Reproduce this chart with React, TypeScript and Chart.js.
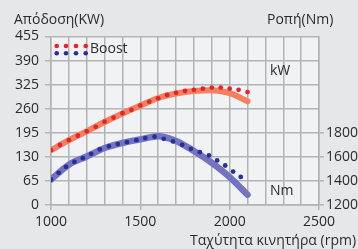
import React, { useEffect, useRef } from "react";
import { Chart, registerables } from "chart.js";
Chart.register(...registerables);

// Power (kW) – standard curve (solid)
const powerLineRpm = [1000, 1100, 1200, 1300, 1400, 1500, 1600, 1700, 1800, 1900, 2000, 2100];
const powerLineKw = [148, 175, 199, 224, 247, 268, 289, 301, 308, 310, 302, 280];
// Power (kW) – Boost (dotted)
const powerBoostRpm = [1000, 1050, 1100, 1150, 1200, 1250, 1300, 1350, 1400, 1450, 1500, 1550, 1600, 1650, 1700, 1750, 1800, 1850, 1900, 1950, 2000, 2050, 2100];
const powerBoostKw = [148, 162, 175, 187, 199, 211, 225, 236, 248, 257, 269, 279, 288, 297, 303, 308, 311, 314, 317, 317, 314, 311, 305];
// Torque (Nm) – standard curve (solid)
const torqueLineRpm = [1000, 1100, 1200, 1300, 1400, 1500, 1600, 1700, 1800, 1900, 2000, 2100];
const torqueLineNm = [1412, 1535, 1603, 1673, 1715, 1745, 1772, 1732, 1648, 1550, 1432, 1285];
// Torque (Nm) – Boost (dotted)
const torqueBoostRpm = [1000, 1043, 1084, 1131, 1178, 1225, 1273, 1324, 1374, 1425, 1478, 1528, 1580, 1631, 1683, 1734, 1783, 1833, 1884, 1930, 1975, 2019, 2062];
const torqueBoostNm = [1412, 1467, 1517, 1558, 1589, 1625, 1662, 1689, 1706, 1722, 1739, 1756, 1767, 1750, 1728, 1700, 1667, 1639, 1612, 1570, 1528, 1478, 1433];

const leftTitle = "Απόδοση(KW)";
const rightTitle = "Ροπή(Nm)";
const xTitle = "Ταχύτητα κινητήρα (rpm)";
const legendLabel = "Boost";
const kwLabel = "kW";
const nmLabel = "Nm";

const FONT = "'Open Sans', sans-serif";
const TEXT = "#2b2b2b";
const GRID = "#b3b3b3";

const zip = (xs: number[], ys: number[]) => xs.map((x, i) => ({ x, y: ys[i] }));

export default function App() {
  const ref = useRef<HTMLCanvasElement | null>(null);
  useEffect(() => {
    document.body.style.margin = "0";
    const canvas = ref.current!;
    const deco = {
      id: "deco",
      beforeDraw(chart: any) {
        const { ctx, chartArea: a } = chart;
        ctx.save();
        ctx.fillStyle = "#e6e7e9";
        ctx.fillRect(0, 0, chart.width, chart.height);
        ctx.fillStyle = "#f1f2f4";
        ctx.fillRect(a.left, a.top, a.right - a.left, a.bottom - a.top);
        ctx.restore();
      },
      afterDraw(chart: any) {
        const { ctx } = chart;
        ctx.save();
        ctx.fillStyle = TEXT;
        ctx.font = `14px ${FONT}`;
        ctx.textBaseline = "middle";
        ctx.textAlign = "left";
        ctx.fillText(leftTitle, 14, 20.5);
        ctx.fillText(rightTitle, 267, 20.5);
        ctx.fillText(xTitle, 190, 241);
        ctx.fillText(legendLabel, 90, 49.5);
        ctx.fillText(kwLabel, 270, 71);
        ctx.fillText(nmLabel, 270, 191);
        const xs = [56.7, 66, 76, 85.7];
        xs.forEach((x) => {
          ctx.fillStyle = "#e8222c";
          ctx.beginPath();
          ctx.arc(x, 46, 2.3, 0, Math.PI * 2);
          ctx.fill();
          ctx.fillStyle = "#27309a";
          ctx.beginPath();
          ctx.arc(x, 53.3, 2.3, 0, Math.PI * 2);
          ctx.fill();
        });
        ctx.restore();
      },
    };
    const chart = new Chart(canvas, {
      type: "line",
      data: {
        datasets: [
          {
            label: "Boost kW",
            data: zip(powerBoostRpm, powerBoostKw),
            yAxisID: "y",
            showLine: false,
            pointRadius: 2.4,
            pointBackgroundColor: "#e8222c",
            pointBorderWidth: 0,
            order: 0,
          },
          {
            label: "Boost Nm",
            data: zip(torqueBoostRpm, torqueBoostNm),
            yAxisID: "y2",
            showLine: false,
            pointRadius: 2.4,
            pointBackgroundColor: "#27309a",
            pointBorderWidth: 0,
            order: 0,
          },
          {
            label: "kW",
            data: zip(powerLineRpm, powerLineKw),
            yAxisID: "y",
            borderColor: "#f4805f",
            borderWidth: 6,
            borderCapStyle: "round",
            pointRadius: 0,
            cubicInterpolationMode: "monotone",
            order: 1,
          },
          {
            label: "Nm",
            data: zip(torqueLineRpm, torqueLineNm),
            yAxisID: "y2",
            borderColor: "#7373c1",
            borderWidth: 6.5,
            borderCapStyle: "round",
            pointRadius: 0,
            cubicInterpolationMode: "monotone",
            order: 1,
          },
        ],
      } as any,
      options: {
        responsive: false,
        animation: false,
        devicePixelRatio: 1,
        layout: { padding: { top: 36.5, bottom: 0, left: 0, right: 0 } },
        plugins: { legend: { display: false }, tooltip: { enabled: false } },
        scales: {
          x: {
            type: "linear",
            min: 1000,
            max: 2500,
            afterFit: (s: any) => { s.height = 44; },
            ticks: {
              stepSize: 100,
              autoSkip: false,
              maxRotation: 0,
              padding: 4,
              color: TEXT,
              font: { family: FONT, size: 14 },
              callback: (v: any) => (v % 500 === 0 ? String(v) : ""),
            },
            grid: {
              color: GRID,
              lineWidth: 1.5,
              tickLength: 5,
              tickColor: (c: any) => (c.tick && c.tick.value % 500 === 0 ? GRID : "rgba(0,0,0,0)"),
            },
            border: { color: GRID, width: 1.5 },
          },
          y: {
            position: "left",
            min: 0,
            max: 455,
            afterFit: (s: any) => { s.width = 51; },
            ticks: {
              stepSize: 65,
              padding: 6,
              color: TEXT,
              font: { family: FONT, size: 14 },
              callback: (v: any) => String(v),
            },
            grid: { color: GRID, lineWidth: 1.5, tickLength: 6 },
            border: { color: GRID, width: 1.5 },
          },
          y2: {
            position: "right",
            min: 1200,
            max: 2600,
            afterFit: (s: any) => { s.width = 39; },
            afterBuildTicks: (s: any) => {
              s.ticks = s.ticks.filter((t: any) => t.value <= 1800);
            },
            ticks: {
              stepSize: 200,
              padding: 2,
              color: TEXT,
              font: { family: FONT, size: 14 },
              callback: (v: any) => String(v),
            },
            grid: { drawOnChartArea: false, color: GRID, lineWidth: 1.5, tickLength: 5 },
            border: { color: GRID, width: 1.5 },
          },
        },
      } as any,
      plugins: [deco],
    });
    return () => chart.destroy();
  }, []);
  return (
    <div style={{ width: 358, height: 249, position: "relative" }}>
      <canvas ref={ref} width={358} height={249} style={{ display: "block" }} />
    </div>
  );
}
